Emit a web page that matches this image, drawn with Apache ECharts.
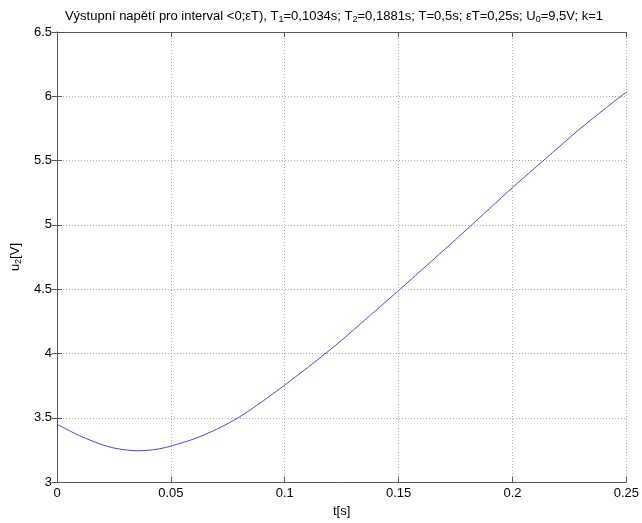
<!DOCTYPE html>
<html>
<head>
<meta charset="utf-8">
<script src="https://cdn.jsdelivr.net/npm/echarts@6/dist/echarts.min.js"></script>
<style>
    html, body { margin: 0; padding: 0; background: #fff; }
    #chart { width: 642px; height: 523px; }
</style>
</head>
<body>
<div id="chart"></div>
<script>
// t [s]
const timeData = [0, 0.01, 0.02, 0.025, 0.03, 0.035, 0.04, 0.045, 0.05, 0.06, 0.07, 0.08, 0.09, 0.10,
    0.11, 0.12, 0.13, 0.14, 0.15, 0.16, 0.17, 0.18, 0.19, 0.20, 0.21, 0.22, 0.23, 0.24, 0.25];
// u2 [V]
const voltData = [3.45, 3.36, 3.29, 3.265, 3.251, 3.244, 3.247, 3.259, 3.28, 3.335, 3.41, 3.505, 3.625, 3.755,
    3.89, 4.03, 4.18, 4.335, 4.49, 4.648, 4.806, 4.966, 5.128, 5.29, 5.445, 5.6, 5.752, 5.895, 6.033];

const xTicks = { min: 0, max: 0.25, step: 0.05 };
const yTicks = { min: 3, max: 6.5, step: 0.5 };

const fontFamily = "Liberation Sans, Arial, sans-serif";
const axisColor = "#555";

const chart = echarts.init(document.getElementById("chart"));

const tickStyle = {
    show: true,
    inside: true,
    length: 5,
    lineStyle: { color: axisColor, width: 1 },
};

const gridLine = {
    show: true,
    lineStyle: { color: "#aaa", type: [1, 2], width: 1 },
};

const subStyle = { fontSize: 9, verticalAlign: "bottom", padding: [6, 0, 0, 0], fontFamily, color: "#000" };

const option = {
    animation: false,
    backgroundColor: "#fff",
    title: {
        // 标题带下标
        text: "Výstupní napětí pro interval <0;εT), T{s|1}=0,1034s; T{s|2}=0,1881s; T=0,5s; εT=0,25s; U{s|0}=9,5V; k=1",
        left: 329,
        textAlign: "center",
        top: 4,
        textStyle: {
            fontFamily,
            fontSize: 13,
            fontWeight: "normal",
            color: "#000",
            rich: { s: subStyle },
        },
    },
    grid: { left: 57, right: 13, top: 32, bottom: 40 },
    xAxis: [
        {
            type: "value",
            min: xTicks.min,
            max: xTicks.max,
            interval: xTicks.step,
            name: "t[s]",
            nameLocation: "middle",
            nameGap: 19,
            nameTextStyle: { fontFamily, fontSize: 13, color: "#000" },
            axisLine: { show: true, lineStyle: { color: axisColor } },
            axisTick: tickStyle,
            axisLabel: { fontFamily, fontSize: 13, color: "#000", margin: 5 },
            splitLine: gridLine,
        },
        {
            type: "value",
            position: "top",
            min: xTicks.min,
            max: xTicks.max,
            interval: xTicks.step,
            axisLine: { show: true, lineStyle: { color: axisColor } },
            axisTick: tickStyle,
            axisLabel: { show: false },
            splitLine: { show: false },
        },
    ],
    yAxis: [
        {
            type: "value",
            min: yTicks.min,
            max: yTicks.max,
            interval: yTicks.step,
            name: "u{s|2}[V]",
            nameLocation: "middle",
            nameGap: 32,
            nameRotate: 90,
            nameTextStyle: {
                fontFamily,
                fontSize: 13,
                color: "#000",
                rich: { s: subStyle },
            },
            axisLine: { show: true, lineStyle: { color: axisColor } },
            axisTick: tickStyle,
            axisLabel: { fontFamily, fontSize: 13, color: "#000", margin: 5 },
            splitLine: gridLine,
        },
        {
            type: "value",
            position: "right",
            min: yTicks.min,
            max: yTicks.max,
            interval: yTicks.step,
            axisLine: { show: true, lineStyle: { color: axisColor } },
            axisTick: tickStyle,
            axisLabel: { show: false },
            splitLine: { show: false },
        },
    ],
    series: [
        {
            type: "line",
            data: timeData.map((t, i) => [t, voltData[i]]),
            smooth: 0.3,
            showSymbol: false,
            lineStyle: { color: "#4a4ad0", width: 1 },
        },
    ],
};

chart.setOption(option);
</script>
</body>
</html>
